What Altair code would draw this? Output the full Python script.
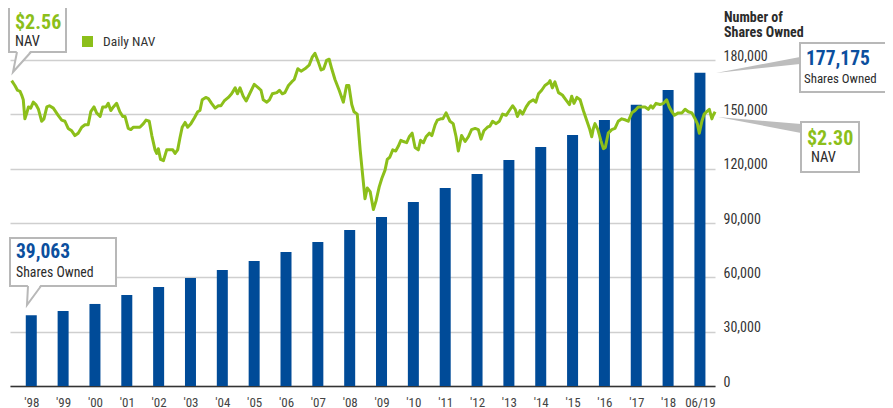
import json
import altair as alt
import pandas as pd

# ---------------- data ----------------
bar_years = list(range(1998, 2020))
year_labels = ["'98", "'99", "'00", "'01", "'02", "'03", "'04", "'05", "'06", "'07", "'08",
               "'09", "'10", "'11", "'12", "'13", "'14", "'15", "'16", "'17", "'18", "06/19"]
shares_owned = [39063, 41400, 45300, 50200, 54700, 59600, 64000, 69000, 74000, 79500, 86100,
                93300, 101600, 109300, 117000, 124800, 132000, 138600, 146900, 155300, 163400, 173000]

nav_time = [
    1997.54, 1997.64, 1997.72, 1997.80, 1997.85, 1997.90, 1997.95, 1998.01, 1998.06, 1998.13,
    1998.21, 1998.29, 1998.37, 1998.47, 1998.54, 1998.63, 1998.71, 1998.83, 1998.98, 1999.09,
    1999.19, 1999.29, 1999.40, 1999.50, 1999.60, 1999.71, 1999.81, 1999.91, 1999.99, 2000.09,
    2000.17, 2000.28, 2000.36, 2000.46, 2000.53, 2000.61, 2000.69, 2000.79, 2000.89, 2000.98,
    2001.05, 2001.15, 2001.23, 2001.31, 2001.41, 2001.51, 2001.62, 2001.70, 2001.80, 2001.88,
    2001.98, 2002.03, 2002.08, 2002.15, 2002.24, 2002.34, 2002.44, 2002.53, 2002.60, 2002.68,
    2002.75, 2002.82, 2002.91, 2002.99, 2003.09, 2003.20, 2003.30, 2003.37, 2003.44, 2003.55,
    2003.63, 2003.73, 2003.84, 2003.94, 2004.02, 2004.12, 2004.25, 2004.35, 2004.46, 2004.53,
    2004.61, 2004.71, 2004.80, 2004.89, 2005.05, 2005.18, 2005.26, 2005.33, 2005.44, 2005.52,
    2005.61, 2005.75, 2005.83, 2005.92, 2006.00, 2006.11, 2006.21, 2006.29, 2006.40, 2006.50,
    2006.62, 2006.75, 2006.85, 2006.93, 2007.03, 2007.12, 2007.20, 2007.29, 2007.37, 2007.45,
    2007.55, 2007.68, 2007.81, 2007.86, 2007.91, 2007.98, 2008.07, 2008.14, 2008.24, 2008.33,
    2008.41, 2008.48, 2008.55, 2008.64, 2008.74, 2008.82, 2008.92, 2009.00, 2009.10, 2009.17,
    2009.25, 2009.34, 2009.43, 2009.51, 2009.59, 2009.67, 2009.77, 2009.85, 2009.94, 2010.03,
    2010.13, 2010.20, 2010.29, 2010.37, 2010.47, 2010.55, 2010.65, 2010.72, 2010.82, 2010.89,
    2010.99, 2011.11, 2011.21, 2011.30, 2011.37, 2011.47, 2011.58, 2011.68, 2011.78, 2011.89,
    2011.99, 2012.07, 2012.16, 2012.27, 2012.35, 2012.43, 2012.54, 2012.64, 2012.74, 2012.85,
    2012.95, 2013.05, 2013.13, 2013.20, 2013.28, 2013.36, 2013.47, 2013.57, 2013.69, 2013.77,
    2013.85, 2013.95, 2014.05, 2014.16, 2014.21, 2014.28, 2014.36, 2014.47, 2014.59, 2014.70,
    2014.81, 2014.88, 2014.95, 2015.04, 2015.14, 2015.24, 2015.34, 2015.43, 2015.50, 2015.55,
    2015.60, 2015.69, 2015.78, 2015.86, 2015.92, 2016.01, 2016.12, 2016.22, 2016.32, 2016.43,
    2016.55, 2016.63, 2016.74, 2016.84, 2016.94, 2017.05, 2017.15, 2017.25, 2017.33, 2017.39,
    2017.49, 2017.61, 2017.72, 2017.82, 2017.90, 2017.98, 2018.06, 2018.18, 2018.29, 2018.39,
    2018.49, 2018.60, 2018.70, 2018.77, 2018.83, 2018.91, 2018.98, 2019.06, 2019.14, 2019.22,
    2019.26, 2019.32,
]
nav_value = [
    2.56, 2.52, 2.48, 2.47, 2.44, 2.40, 2.24, 2.29, 2.34, 2.33,
    2.38, 2.36, 2.32, 2.22, 2.24, 2.34, 2.35, 2.33, 2.27, 2.23,
    2.22, 2.16, 2.14, 2.10, 2.12, 2.17, 2.19, 2.19, 2.30, 2.34,
    2.29, 2.26, 2.34, 2.34, 2.37, 2.31, 2.34, 2.37, 2.30, 2.26,
    2.26, 2.16, 2.15, 2.17, 2.17, 2.17, 2.20, 2.23, 2.22, 2.10,
    1.98, 1.95, 1.99, 1.90, 1.89, 1.98, 1.98, 1.98, 1.95, 1.98,
    2.08, 2.17, 2.21, 2.17, 2.20, 2.25, 2.30, 2.31, 2.40, 2.42,
    2.41, 2.37, 2.33, 2.35, 2.35, 2.39, 2.42, 2.45, 2.50, 2.45,
    2.50, 2.43, 2.39, 2.44, 2.53, 2.50, 2.48, 2.40, 2.38, 2.40,
    2.45, 2.46, 2.48, 2.45, 2.46, 2.52, 2.55, 2.57, 2.66, 2.64,
    2.66, 2.69, 2.76, 2.79, 2.72, 2.65, 2.66, 2.73, 2.74, 2.66,
    2.57, 2.48, 2.38, 2.45, 2.52, 2.52, 2.36, 2.30, 2.28, 1.98,
    1.76, 1.57, 1.66, 1.63, 1.48, 1.55, 1.67, 1.74, 1.81, 1.90,
    1.92, 1.98, 1.97, 2.01, 2.06, 2.05, 2.04, 2.09, 2.12, 2.00,
    1.98, 2.06, 2.04, 2.09, 2.12, 2.10, 2.19, 2.23, 2.24, 2.24,
    2.29, 2.22, 2.20, 2.09, 1.97, 2.10, 2.05, 2.09, 2.15, 2.16,
    2.15, 2.07, 2.14, 2.17, 2.18, 2.22, 2.20, 2.22, 2.28, 2.27,
    2.31, 2.35, 2.32, 2.26, 2.31, 2.28, 2.34, 2.38, 2.40, 2.38,
    2.45, 2.48, 2.52, 2.54, 2.56, 2.50, 2.55, 2.46, 2.44, 2.40,
    2.36, 2.43, 2.37, 2.42, 2.40, 2.31, 2.23, 2.16, 2.09, 2.16,
    2.20, 2.15, 2.06, 1.99, 2.00, 2.12, 2.15, 2.16, 2.22, 2.24,
    2.23, 2.22, 2.29, 2.31, 2.34, 2.34, 2.34, 2.32, 2.35, 2.33,
    2.37, 2.36, 2.37, 2.40, 2.34, 2.30, 2.27, 2.29, 2.29, 2.32,
    2.30, 2.29, 2.24, 2.20, 2.12, 2.22, 2.28, 2.30, 2.32, 2.24,
    2.27, 2.30,
]
share_ticks = [0, 30000, 60000, 90000, 120000, 150000, 180000]

# ---------------- style / layout ----------------
FONT = "Liberation Sans Narrow, Roboto Condensed, DejaVu Sans Condensed, Arial Narrow, Roboto, sans-serif"
BLUE = "#004b98"
BLUE_TXT = "#0b4f9e"
GREEN = "#8cbf1a"
GRAY = "#b8b8b8"
DARK = "#2b2b2b"
W, H = 705, 326
OX, OY = 10, 60          # plot origin on the page
X_DOMAIN = [1997.489, 2019.316]

bars_df = pd.DataFrame({"year": bar_years, "shares": shares_owned})
nav_df = pd.DataFrame({"t": nav_time, "nav": nav_value})
one = pd.DataFrame({"k": [0]})

xscale = alt.Scale(domain=X_DOMAIN, nice=False, zero=False)

bars = alt.Chart(bars_df).mark_bar(width=11, color=BLUE).encode(
    x=alt.X("year:Q", scale=xscale,
            axis=alt.Axis(values=bar_years, labelExpr=json.dumps(year_labels) + "[datum.value - 1998]",
                          grid=False, ticks=False, domainColor="#333", domainWidth=1.5,
                          labelFont=FONT, labelFontSize=13, labelColor="#444", labelPadding=10,
                          title=None)),
    y=alt.Y("shares:Q", scale=alt.Scale(domain=[0, 180000], nice=False),
            axis=alt.Axis(orient="right", values=share_ticks, format=",d", grid=True,
                          gridColor="#cfcfcf", gridWidth=1.5, ticks=False, domain=False,
                          labelPadding=8, labelFont=FONT, labelFontSize=14, labelColor="#333",
                          labelOffset=-4, title=None)),
)

line = alt.Chart(nav_df).mark_line(color=GREEN, strokeWidth=3, strokeJoin="round").encode(
    x=alt.X("t:Q", scale=xscale, axis=None),
    y=alt.Y("nav:Q", scale=alt.Scale(domain=[0, 2.7336], nice=False, zero=False), axis=None),
)


def rect(x1, y1, x2, y2, fill="white", stroke=GRAY, sw=2):
    kw = dict(fill=fill)
    if stroke:
        kw.update(stroke=stroke, strokeWidth=sw)
    return alt.Chart(one).mark_rect(**kw).encode(
        x=alt.value(x1 - OX), x2=alt.value(x2 - OX), y=alt.value(y1 - OY), y2=alt.value(y2 - OY))


def label(x, y, s, size, color=DARK, bold=False):
    return alt.Chart(one).mark_text(text=s, font=FONT, fontSize=size, color=color,
                                    fontWeight="bold" if bold else "normal",
                                    align="left", baseline="middle").encode(
        x=alt.value(x - OX), y=alt.value(y - OY))


def wedge(ax, ay, bx, by1, by2):
    df = pd.DataFrame({"px": [ax - OX, bx - OX], "py": [ay - OY, by1 - OY], "py2": [ay - OY, by2 - OY]})
    return alt.Chart(df).mark_area(color="#bdbdbd").encode(
        x=alt.X("px:Q", scale=None, axis=None),
        y=alt.Y("py:Q", scale=None, axis=None), y2="py2:Q")


def tail(x_left, x_right, y_top, ax, ay):
    fill_df = pd.DataFrame({"py": [y_top - 2 - OY, ay - OY],
                            "px": [x_left - OX, ax - OX], "px2": [x_right - OX, ax - OX]})
    fill = alt.Chart(fill_df).mark_area(color="white", orient="horizontal").encode(
        y=alt.Y("py:Q", scale=None, axis=None),
        x=alt.X("px:Q", scale=None, axis=None), x2="px2:Q")
    v_df = pd.DataFrame({"px": [x_left - OX, ax - OX, x_right - OX],
                         "py": [y_top - OY, ay - OY, y_top - OY], "o": [0, 1, 2]})
    v = alt.Chart(v_df).mark_line(color=GRAY, strokeWidth=2).encode(
        x=alt.X("px:Q", scale=None, axis=None), y=alt.Y("py:Q", scale=None, axis=None),
        order="o:Q")
    return [fill, v]


layers = [bars, line]

# legend
layers.append(rect(82, 36, 93, 47, fill=GREEN, stroke=None))
layers.append(label(103, 42, "Daily NAV", 13.5, "#333"))

# right axis title
layers.append(label(724, 17.5, "Number of", 14, DARK, True))
layers.append(label(724, 33, "Shares Owned", 14, DARK, True))

# start NAV callout
layers.append(rect(9, 6, 66, 52))
layers += tail(17, 31, 52, 13, 72)
layers.append(label(15, 23, "$2.56", 20, GREEN, True))
layers.append(label(15, 42, "NAV", 14.5))

# start shares callout
layers.append(rect(10, 238, 116, 286))
layers += tail(28, 41, 286, 27, 305)
layers.append(label(16, 252, "39,063", 19.5, BLUE_TXT, True))
layers.append(label(16, 273, "Shares Owned", 13.8))

# end shares callout
layers.append(wedge(716, 73, 800, 57, 64))
layers.append(rect(800, 43, 905, 92))
layers.append(label(806, 59, "177,175", 19.5, BLUE_TXT, True))
layers.append(label(804, 79, "Shares Owned", 12.9))

# end NAV callout
layers.append(wedge(718, 117, 801, 124, 133))
layers.append(rect(801, 122, 859, 172))
layers.append(label(807, 139, "$2.30", 20, GREEN, True))
layers.append(label(811, 158, "NAV", 14.5))

chart = alt.layer(*layers).resolve_scale(x="independent", y="independent").properties(
    width=W, height=H,
    padding={"left": 2, "top": 52, "right": 170, "bottom": 22},
    autosize=alt.AutoSizeParams(type="none"),
).configure_view(stroke=None)

chart.save("out.html", embed_options={"renderer": "svg", "actions": False})
